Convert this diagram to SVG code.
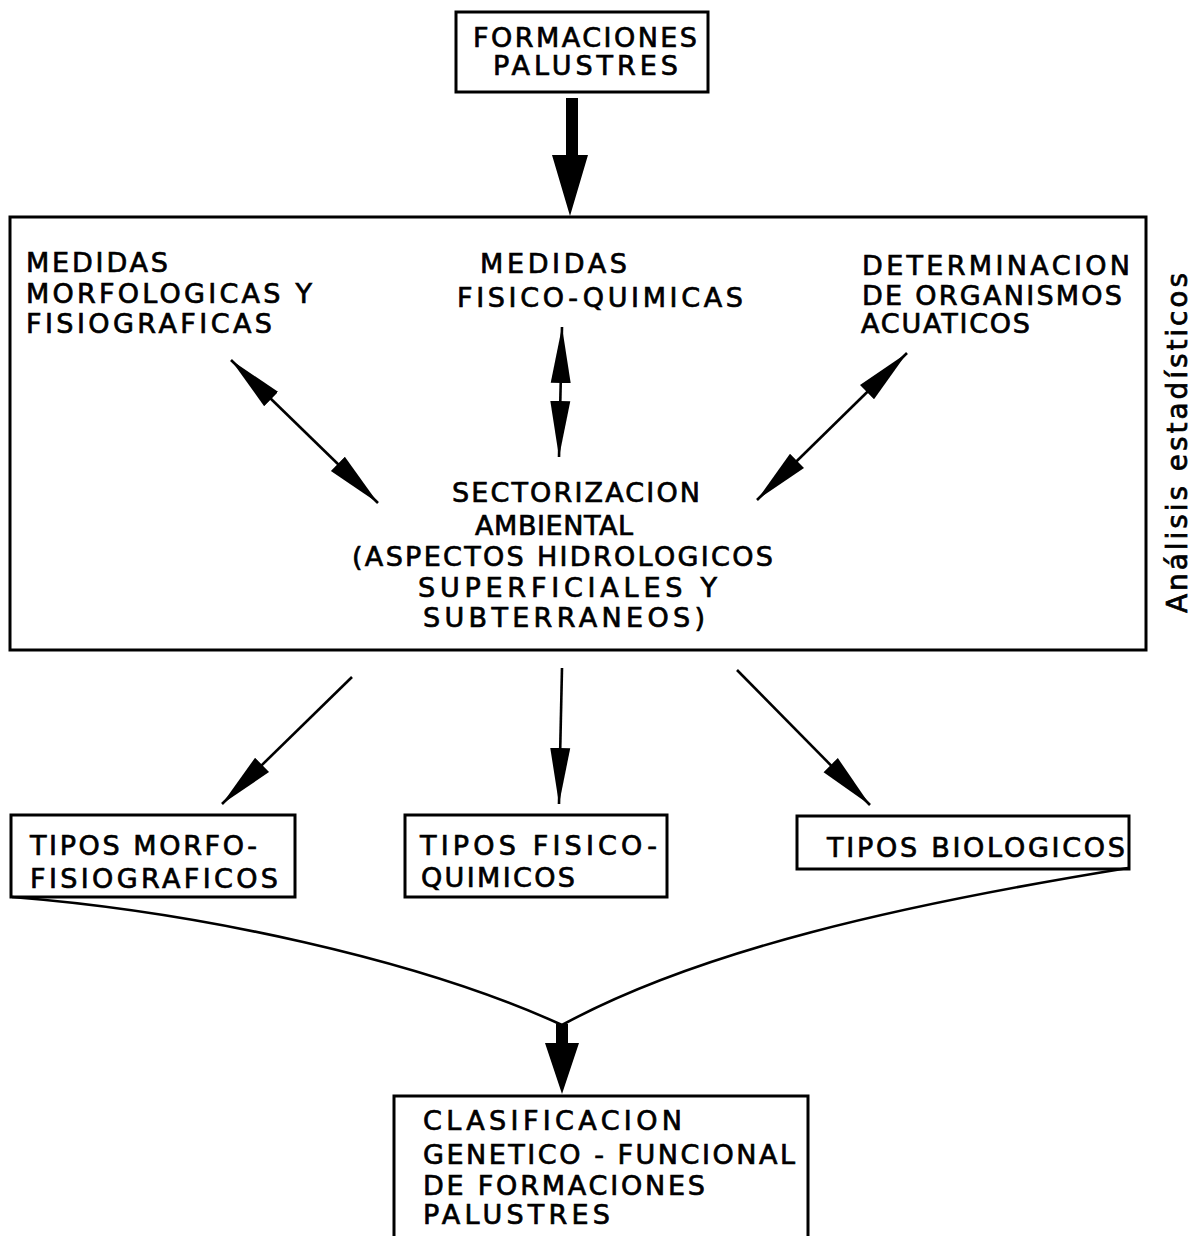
<svg xmlns="http://www.w3.org/2000/svg" width="1200" height="1236" viewBox="0 0 1200 1236">
<style>
  text { font-family: "DejaVu Sans", "Liberation Sans", sans-serif; font-size: 27px; fill: #000; stroke: #000; stroke-width: 0.7; }
  .rot { font-size: 28px; }
  .box { fill: #fff; stroke: #000; stroke-width: 3; }
  .conn { fill: none; stroke: #000; stroke-width: 2.6; }
  .thick { fill: #000; stroke: none; }
</style>
<defs>
  <marker id="ah" viewBox="0 0 56 22" refX="56" refY="11" markerWidth="56" markerHeight="22" markerUnits="userSpaceOnUse" orient="auto-start-reverse">
    <path d="M0,1 L56,11 L0,21 z" fill="#000"/>
  </marker>
</defs>
<rect width="1200" height="1236" fill="#fff"/>

<g id="n-formaciones">
  <rect class="box" x="456" y="12" width="252" height="80"/>
  <text x="473" y="47" textLength="224" lengthAdjust="spacing">FORMACIONES</text>
  <text x="493" y="75" textLength="185" lengthAdjust="spacing">PALUSTRES</text>
</g>

<g id="n-main">
  <rect class="box" x="10" y="217" width="1136" height="433"/>
  <text x="26" y="272" textLength="142" lengthAdjust="spacing">MEDIDAS</text>
  <text x="26" y="303" textLength="286" lengthAdjust="spacing">MORFOLOGICAS  Y</text>
  <text x="26" y="333" textLength="246" lengthAdjust="spacing">FISIOGRAFICAS</text>
  <text x="480" y="273" textLength="147" lengthAdjust="spacing">MEDIDAS</text>
  <text x="457" y="307" textLength="286" lengthAdjust="spacing">FISICO-QUIMICAS</text>
  <text x="862" y="275" textLength="268" lengthAdjust="spacing">DETERMINACION</text>
  <text x="862" y="305" textLength="260" lengthAdjust="spacing">DE ORGANISMOS</text>
  <text x="861" y="333" textLength="169" lengthAdjust="spacing">ACUATICOS</text>
  <text x="452" y="502" textLength="248" lengthAdjust="spacing">SECTORIZACION</text>
  <text x="475" y="535" textLength="158" lengthAdjust="spacing">AMBIENTAL</text>
  <text x="352" y="566" textLength="421" lengthAdjust="spacing">(ASPECTOS  HIDROLOGICOS</text>
  <text x="418" y="597" textLength="299" lengthAdjust="spacing">SUPERFICIALES  Y</text>
  <text x="423" y="627" textLength="282" lengthAdjust="spacing">SUBTERRANEOS)</text>
</g>

<g id="n-analisis">
  <text class="rot" x="0" y="0" transform="translate(1187,613) rotate(-90)" textLength="340" lengthAdjust="spacing">Análisis  estadísticos</text>
</g>

<g id="n-morfo">
  <rect class="box" x="11" y="815" width="284" height="82"/>
  <text x="30" y="855" textLength="227" lengthAdjust="spacing">TIPOS MORFO-</text>
  <text x="30" y="888" textLength="248" lengthAdjust="spacing">FISIOGRAFICOS</text>
</g>

<g id="n-fisico">
  <rect class="box" x="405" y="815" width="262" height="82"/>
  <text x="420" y="855" textLength="237" lengthAdjust="spacing">TIPOS FISICO-</text>
  <text x="421" y="887" textLength="154" lengthAdjust="spacing">QUIMICOS</text>
</g>

<g id="n-bio">
  <rect class="box" x="797" y="816" width="332" height="53"/>
  <text x="827" y="857" textLength="298" lengthAdjust="spacing">TIPOS  BIOLOGICOS</text>
</g>

<g id="n-clasificacion">
  <path class="box" d="M394,1237 L394,1096 L808,1096 L808,1237"/>
  <text x="423" y="1130" textLength="259" lengthAdjust="spacing">CLASIFICACION</text>
  <text x="423" y="1164" textLength="372" lengthAdjust="spacing">GENETICO - FUNCIONAL</text>
  <text x="423" y="1195" textLength="282" lengthAdjust="spacing">DE FORMACIONES</text>
  <text x="423" y="1224" textLength="187" lengthAdjust="spacing">PALUSTRES</text>
</g>

<g id="connectors">
  <polygon class="thick" points="566,98 578,98 578,155 588,155 570,216 552,155 566,155"/>
  <line class="conn" x1="231" y1="360" x2="378" y2="503" marker-start="url(#ah)" marker-end="url(#ah)"/>
  <line class="conn" x1="562" y1="327" x2="559" y2="457" marker-start="url(#ah)" marker-end="url(#ah)"/>
  <line class="conn" x1="907" y1="353" x2="757" y2="500" marker-start="url(#ah)" marker-end="url(#ah)"/>
  <line class="conn" x1="352" y1="677" x2="222" y2="804" marker-end="url(#ah)"/>
  <line class="conn" x1="562" y1="668" x2="559" y2="804" marker-end="url(#ah)"/>
  <line class="conn" x1="737" y1="670" x2="870" y2="805" marker-end="url(#ah)"/>
  <path class="conn" d="M12,897 C 200,912 420,960 562,1025"/>
  <path class="conn" d="M1128,868 C 900,905 700,950 562,1025"/>
  <polygon class="thick" points="556,1024 568,1024 568,1043 579,1043 562,1094 545,1043 556,1043"/>
</g>
</svg>
